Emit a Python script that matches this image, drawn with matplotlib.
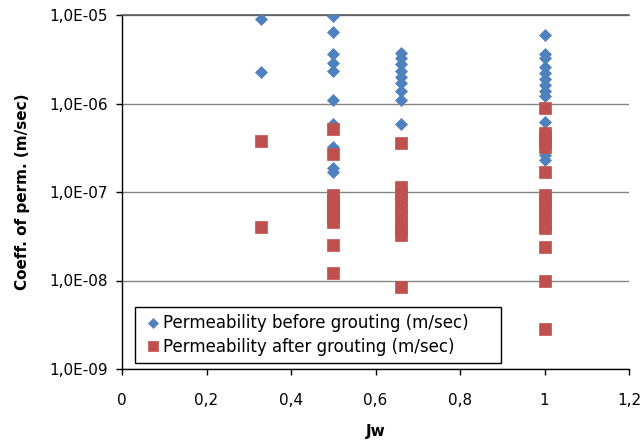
import matplotlib
matplotlib.use("Agg")
import matplotlib.pyplot as plt
from matplotlib.ticker import FixedLocator, NullLocator

# ---- data ----
jw_before = [0.33, 0.33,
             0.5, 0.5, 0.5, 0.5, 0.5, 0.5, 0.5, 0.5, 0.5, 0.5,
             0.66, 0.66, 0.66, 0.66, 0.66, 0.66, 0.66, 0.66, 0.66,
             1.0, 1.0, 1.0, 1.0, 1.0, 1.0, 1.0, 1.0, 1.0, 1.0, 1.0, 1.0]
k_before = [9.0e-6, 2.25e-6,
            9.8e-6, 6.4e-6, 3.6e-6, 2.85e-6, 2.3e-6, 1.1e-6, 5.8e-7, 3.2e-7, 1.85e-7, 1.7e-7,
            3.7e-6, 3.3e-6, 2.8e-6, 2.3e-6, 2.0e-6, 1.7e-6, 1.4e-6, 1.1e-6, 5.8e-7,
            5.9e-6, 3.6e-6, 3.3e-6, 2.6e-6, 2.2e-6, 1.9e-6, 1.6e-6, 1.37e-6, 1.2e-6, 6.2e-7, 2.6e-7, 2.3e-7]

jw_after = [0.33, 0.33,
            0.5, 0.5, 0.5, 0.5, 0.5, 0.5, 0.5, 0.5, 0.5, 0.5,
            0.66, 0.66, 0.66, 0.66, 0.66, 0.66, 0.66, 0.66, 0.66, 0.66,
            1.0, 1.0, 1.0, 1.0, 1.0, 1.0, 1.0, 1.0, 1.0, 1.0, 1.0, 1.0, 1.0, 1.0, 1.0, 1.0]
k_after = [3.8e-7, 4.0e-8,
           5.1e-7, 2.7e-7, 9.2e-8, 8.0e-8, 7.0e-8, 6.0e-8, 5.2e-8, 4.6e-8, 2.5e-8, 1.2e-8,
           3.6e-7, 1.14e-7, 9.5e-8, 8.0e-8, 6.5e-8, 5.5e-8, 4.5e-8, 3.8e-8, 3.24e-8, 8.5e-9,
           8.8e-7, 4.7e-7, 4.2e-7, 3.7e-7, 3.2e-7, 1.7e-7, 9.2e-8, 8.0e-8, 7.0e-8, 6.0e-8,
           5.0e-8, 4.4e-8, 3.9e-8, 2.4e-8, 1.0e-8, 2.85e-9]

x_ticks = [0, 0.2, 0.4, 0.6, 0.8, 1.0, 1.2]
x_tick_labels = ["0", "0,2", "0,4", "0,6", "0,8", "1", "1,2"]
y_ticks = [1e-9, 1e-8, 1e-7, 1e-6, 1e-5]
y_tick_labels = ["1,0E-09", "1,0E-08", "1,0E-07", "1,0E-06", "1,0E-05"]

label_before = "Permeability before grouting (m/sec)"
label_after = "Permeability after grouting (m/sec)"

# ---- figure ----
W, H = 643, 441
fig = plt.figure(figsize=(W / 100, H / 100), dpi=100)
left, right, top, bottom = 122, 629, 15, 369
ax = fig.add_axes([left / W, 1 - bottom / H, (right - left) / W, (bottom - top) / H])

ax.plot(jw_before, k_before, linestyle="none", marker="D", markersize=6.6,
        color="#4F81BD", markeredgecolor="#4F81BD", markeredgewidth=0.5,
        label=label_before, zorder=3)
ax.plot(jw_after, k_after, linestyle="none", marker="s", markersize=9,
        color="#C0504D", markeredgecolor="#C0504D", markeredgewidth=0.5,
        label=label_after, zorder=4)

ax.set_yscale("log")
ax.set_xlim(0, 1.2)
ax.set_ylim(1e-9, 1e-5)

ax.xaxis.set_major_locator(FixedLocator(x_ticks))
ax.set_xticklabels(x_tick_labels)
ax.yaxis.set_major_locator(FixedLocator(y_ticks))
ax.yaxis.set_minor_locator(NullLocator())
ax.set_yticklabels(y_tick_labels)

ax.grid(axis="y", color="#868686", linewidth=1)
ax.set_axisbelow(True)
ax.spines["right"].set_visible(False)
ax.spines["top"].set_color("#5a5a5a")
ax.spines["top"].set_linewidth(1.2)
for s in ["left", "bottom"]:
    ax.spines[s].set_color("black")
    ax.spines[s].set_linewidth(1)

ax.tick_params(axis="both", direction="out", length=4, width=1, labelsize=11,
               colors="black")
ax.tick_params(axis="x", pad=13)
ax.tick_params(axis="y", pad=6)

ax.set_xlabel("Jw", fontsize=11, fontweight="bold", va="top")
ax.xaxis.set_label_coords(0.5, -(424 - bottom) / (bottom - top))
ax.set_ylabel("Coeff. of perm. (m/sec)", fontsize=11, fontweight="bold")
ax.yaxis.set_label_coords(-(left - 30) / (right - left), 0.5)

leg = ax.legend(loc="lower left",
                bbox_to_anchor=((135 - left) / (right - left), (bottom - 363) / (bottom - top),
                                366 / (right - left), 54 / (bottom - top)),
                mode="expand", frameon=True, fancybox=False, fontsize=12,
                handlelength=1.2, handletextpad=0.05, borderpad=0.45,
                labelspacing=0.3, markerscale=0.8, borderaxespad=0)
leg.get_frame().set_edgecolor("black")
leg.get_frame().set_linewidth(1)
leg.get_frame().set_alpha(1)

fig.savefig("out.png", dpi=100)
